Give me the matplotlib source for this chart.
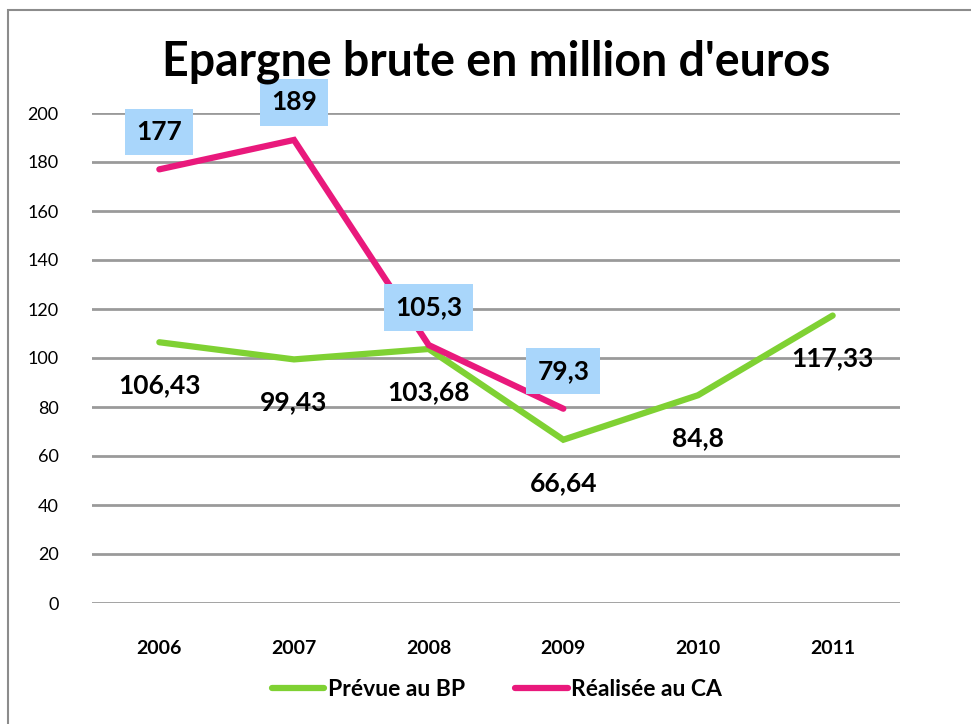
import matplotlib
matplotlib.use("Agg")
import matplotlib.pyplot as plt
from matplotlib.patches import Rectangle

plt.rcParams['font.family'] = ['Lato', 'DejaVu Sans']

years = ["2006", "2007", "2008", "2009", "2010", "2011"]
prevue = [106.43, 99.43, 103.68, 66.64, 84.8, 117.33]
prevue_labels = ["106,43", "99,43", "103,68", "66,64", "84,8", "117,33"]
realisee = [177, 189, 105.3, 79.3]
realisee_labels = ["177", "189", "105,3", "79,3"]
yticks = [0, 20, 40, 60, 80, 100, 120, 140, 160, 180, 200]

W, H = 971, 724
fig = plt.figure(figsize=(W / 100, H / 100), dpi=100)
fig.patch.set_facecolor("white")

# outer frame
fig.add_artist(Rectangle((8 / W, -0.05), 1.2, 1 - 10 / H + 0.05, transform=fig.transFigure,
                         fill=False, edgecolor="#8c8c8c", linewidth=1.5))

left, right, top, bottom = 92, 900, 113, 603
ax = fig.add_axes([left / W, 1 - bottom / H, (right - left) / W, (bottom - top) / H])
ax.set_facecolor("none")
x = list(range(len(years)))
ax.set_xlim(-0.5, len(years) - 0.5)
ax.set_ylim(0, 200)
ax.set_yticks(yticks)
ax.set_yticklabels([str(v) for v in yticks], fontsize=13)
ax.set_xticks(x)
ax.set_xticklabels(years, fontsize=14, fontweight="bold")
ax.tick_params(axis="both", length=0)
ax.tick_params(axis="y", pad=24)
ax.tick_params(axis="x", pad=27)
for s in ax.spines.values():
    s.set_visible(False)
ax.grid(axis="y", color="#9a9a9a", linewidth=2)
ax.set_axisbelow(True)

lg, = ax.plot(x, prevue, color="#7fd133", linewidth=4.5, solid_capstyle="round",
              solid_joinstyle="miter", label="Prévue au BP", clip_on=False)
lp, = ax.plot(x[:len(realisee)], realisee, color="#e9197c", linewidth=4.5,
              solid_capstyle="round", solid_joinstyle="miter", label="Réalisée au CA", clip_on=False)

for xi, v, t in zip(x, prevue, prevue_labels):
    ax.annotate(t, (xi, v), xytext=(0, -31), textcoords="offset points",
                ha="center", va="center", fontsize=19, fontweight="bold")
for xi, v, t in zip(x, realisee, realisee_labels):
    ax.annotate(t, (xi, v), xytext=(0, 27), textcoords="offset points",
                ha="center", va="center", fontsize=19, fontweight="bold",
                bbox=dict(boxstyle="square,pad=0.42", facecolor="#a9d6fb", edgecolor="none"))

fig.text(496 / W, 1 - 62 / H, "Epargne brute en million d'euros", ha="center", va="center",
         fontsize=33.5, fontweight="bold")

fig.legend(handles=[lg, lp], loc="center", bbox_to_anchor=(497 / W, 1 - 690 / H), ncol=2,
           frameon=False, prop={"weight": "bold", "size": 16.5},
           handlelength=2.3, handletextpad=0.15, columnspacing=2.2)

fig.savefig("out.png", dpi=100)
